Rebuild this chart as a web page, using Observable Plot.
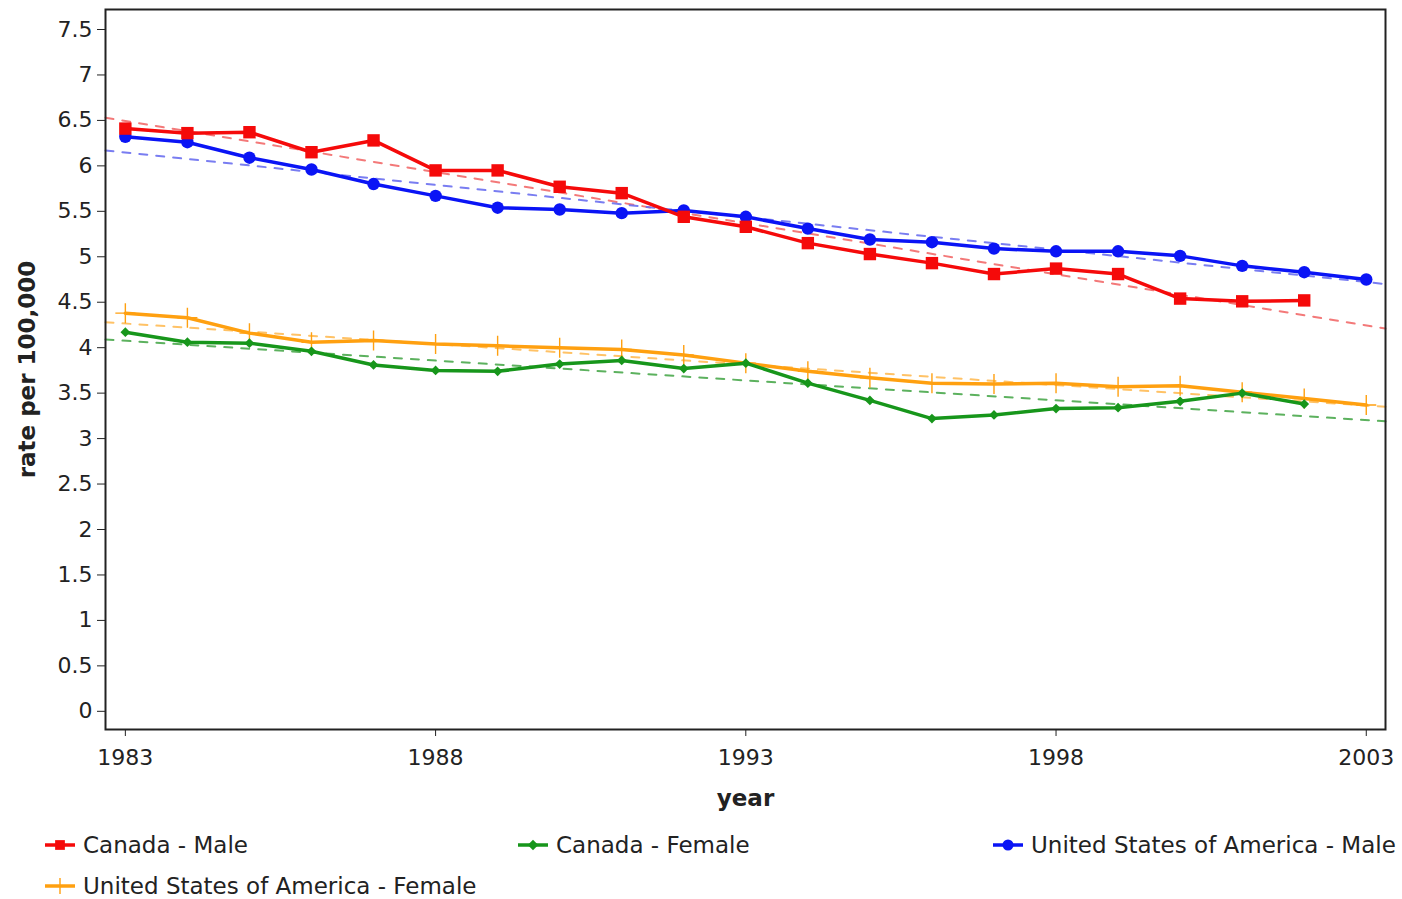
<!DOCTYPE html>
<html>
<head>
<meta charset="utf-8">
<script src="https://cdn.jsdelivr.net/npm/d3@7"></script>
<script src="https://cdn.jsdelivr.net/npm/@observablehq/plot@0.6"></script>
<style>
  html, body { margin: 0; padding: 0; background: #fff; }
  #wrap { position: relative; width: 1402px; height: 899px; font-family: "DejaVu Sans", Verdana, sans-serif; }
  #chart svg g[aria-label="y-axis label"] text,
  #chart svg g[aria-label="x-axis label"] text { font-weight: bold; font-size: 23px; }
  .legend-item { position: absolute; display: flex; align-items: center; font-size: 23px; color: #222; white-space: nowrap; }
  .legend-item svg { margin-right: 6px; }
</style>
</head>
<body>
<div id="wrap">
  <div id="chart"></div>
  <div id="legend"></div>
</div>
<script>
// ---- data ----
const yearsFull = [1983,1984,1985,1986,1987,1988,1989,1990,1991,1992,1993,1994,1995,1996,1997,1998,1999,2000,2001,2002,2003];
const yearsTo2002 = yearsFull.slice(0, 20);

const canadaMale   = [6.41,6.36,6.37,6.15,6.28,5.95,5.95,5.77,5.70,5.44,5.33,5.15,5.03,4.93,4.81,4.87,4.81,4.54,4.51,4.52];
const canadaFemale = [4.17,4.06,4.05,3.96,3.81,3.75,3.74,3.82,3.86,3.77,3.83,3.61,3.42,3.22,3.26,3.33,3.34,3.41,3.50,3.38];
const usMale       = [6.32,6.26,6.09,5.96,5.80,5.67,5.54,5.52,5.48,5.51,5.44,5.31,5.19,5.16,5.09,5.06,5.06,5.01,4.90,4.83,4.75];
const usFemale     = [4.38,4.33,4.16,4.06,4.08,4.04,4.02,4.00,3.98,3.92,3.83,3.74,3.67,3.61,3.60,3.61,3.57,3.58,3.51,3.44,3.37];

// trend-line end values (read at the left and right edges of the plot area)
const trendYears   = [1982.68, 2003.31];
const trendCanadaMale   = [6.53, 4.21];
const trendCanadaFemale = [4.09, 3.19];
const trendUsMale       = [6.17, 4.70];
const trendUsFemale     = [4.28, 3.35];

const xTicks = [1983, 1988, 1993, 1998, 2003];
const yTicks = [0,0.5,1,1.5,2,2.5,3,3.5,4,4.5,5,5.5,6,6.5,7,7.5];

const seriesNames = ["Canada - Male", "Canada - Female", "United States of America - Male", "United States of America - Female"];

// ---- styles ----
const series = [
  {name: seriesNames[0], years: yearsTo2002, values: canadaMale, trend: trendCanadaMale,
   color: "#f50a0a", trendColor: "#f26a6a", symbol: "square", r: 7, filled: true},
  {name: seriesNames[1], years: yearsTo2002, values: canadaFemale, trend: trendCanadaFemale,
   color: "#17961b", trendColor: "#4aa84c", symbol: "diamond2", r: 4.4, filled: true},
  {name: seriesNames[2], years: yearsFull, values: usMale, trend: trendUsMale,
   color: "#0a14f5", trendColor: "#6a6ff0", symbol: "circle", r: 6.2, filled: true},
  {name: seriesNames[3], years: yearsFull, values: usFemale, trend: trendUsFemale,
   color: "#ffa010", trendColor: "#ffbb55", symbol: "plus", r: 6.5, filled: false}
];

const marks = [];
// trend lines (drawn first, underneath)
for (const s of series) {
  const td = trendYears.map((x, i) => ({x, y: s.trend[i]}));
  marks.push(Plot.line(td, {x: "x", y: "y", stroke: s.trendColor, strokeWidth: 2, strokeDasharray: "8,9", strokeOpacity: 0.9}));
}
// draw order: orange, green, blue, red (red on top)
const order = [3, 1, 2, 0];
for (const i of order) {
  const s = series[i];
  const d = s.years.map((x, k) => ({x, y: s.values[k]}));
  marks.push(Plot.line(d, {x: "x", y: "y", stroke: s.color, strokeWidth: 3.5}));
  if (s.filled) {
    marks.push(Plot.dot(d, {x: "x", y: "y", symbol: s.symbol, r: s.r, fill: s.color, stroke: "none"}));
  } else {
    marks.push(Plot.dot(d, {x: "x", y: "y", symbol: s.symbol, r: s.r, fill: "none", stroke: s.color, strokeWidth: 1.4}));
  }
}

const chart = Plot.plot({
  width: 1402,
  height: 815,
  marginLeft: 105,
  marginRight: 17,
  marginTop: 9,
  marginBottom: 86,
  style: {fontFamily: "DejaVu Sans, Verdana, sans-serif", fontSize: "22px", color: "#222", background: "#fff", overflow: "visible"},
  x: {domain: [1982.68, 2003.31]},
  y: {domain: [-0.2, 7.72]},
  marks: [
    Plot.axisX({ticks: xTicks, tickFormat: d => String(d), tickSize: 7, tickPadding: 13,
                label: "year", labelAnchor: "center", labelArrow: "none", labelOffset: 76}),
    Plot.axisY({ticks: yTicks, tickFormat: d => String(d), tickSize: 8, tickPadding: 5,
                label: "rate per 100,000", labelAnchor: "center", labelArrow: "none", labelOffset: 87}),
    ...marks,
    Plot.frame({stroke: "#222", strokeWidth: 2})
  ]
});
document.getElementById("chart").appendChild(chart);

// ---- legend (HTML, below the SVG) ----
const legendPos = [
  {left: 45, top: 832},
  {left: 518, top: 832},
  {left: 993, top: 832},
  {left: 45, top: 873}
];
function swatch(s) {
  const ns = "http://www.w3.org/2000/svg";
  const svg = document.createElementNS(ns, "svg");
  svg.setAttribute("width", 32); svg.setAttribute("height", 16);
  const line = document.createElementNS(ns, "line");
  line.setAttribute("x1", 0); line.setAttribute("x2", 30);
  line.setAttribute("y1", 8); line.setAttribute("y2", 8);
  line.setAttribute("stroke", s.color); line.setAttribute("stroke-width", 3.5);
  svg.appendChild(line);
  const p = document.createElementNS(ns, "path");
  const symMap = {square: d3.symbolSquare, circle: d3.symbolCircle, diamond2: d3.symbolDiamond2, plus: d3.symbolPlus};
  const size = s.symbol === "plus" ? 100 : (s.symbol === "diamond2" ? 70 : 95);
  p.setAttribute("d", d3.symbol(symMap[s.symbol], size)());
  p.setAttribute("transform", "translate(15,8)");
  if (s.filled) { p.setAttribute("fill", s.color); }
  else { p.setAttribute("fill", "none"); p.setAttribute("stroke", s.color); p.setAttribute("stroke-width", 1.4); }
  svg.appendChild(p);
  return svg;
}
const legend = document.getElementById("legend");
series.forEach((s, i) => {
  const item = document.createElement("div");
  item.className = "legend-item";
  item.style.left = legendPos[i].left + "px";
  item.style.top = legendPos[i].top + "px";
  item.appendChild(swatch(s));
  const t = document.createElement("span");
  t.textContent = s.name;
  item.appendChild(t);
  legend.appendChild(item);
});
</script>
</body>
</html>
